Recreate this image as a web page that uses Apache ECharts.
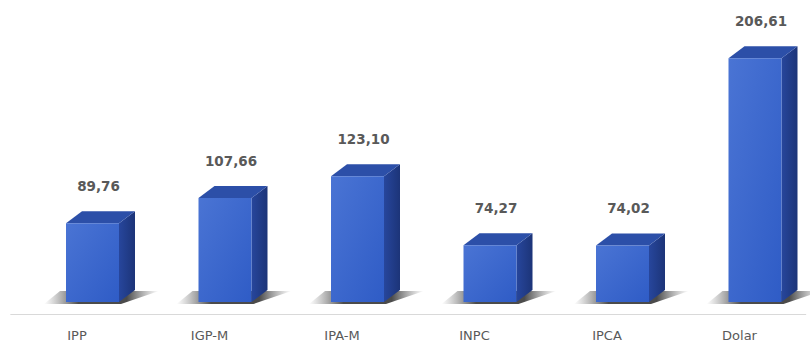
<!DOCTYPE html>
<html>
<head>
<meta charset="utf-8">
<script src="https://cdn.jsdelivr.net/npm/echarts@6/dist/echarts.min.js"></script>
<style>
html,body{margin:0;padding:0;background:#fff;}
#chart{width:810px;height:343px;}
</style>
</head>
<body>
<div id="chart"></div>
<script>
const categories = ['IPP', 'IGP-M', 'IPA-M', 'INPC', 'IPCA', 'Dolar'];
const values = [89.76, 107.66, 123.10, 74.27, 74.02, 206.61];
const Y_MIN = 34;
const Y_MAX = 220;

const chart = echarts.init(document.getElementById('chart'), null, {renderer: 'svg'});

function fmt(v) { return v.toFixed(2).replace('.', ','); }

const option = {
  backgroundColor: '#ffffff',
  animation: false,
  grid: {left: 10.75, right: 4.25, top: 51.4, bottom: 29},
  xAxis: {
    type: 'category',
    data: categories,
    axisTick: {show: false},
    axisLine: {lineStyle: {color: '#d9d9d9', width: 1}},
    axisLabel: {color: '#595959', fontFamily: 'DejaVu Sans', fontSize: 13, margin: 15}
  },
  yAxis: {type: 'value', min: Y_MIN, max: Y_MAX, show: false, splitLine: {show: false}},
  series: [{
    type: 'custom',
    data: values.map((v, i) => [i, v]),
    encode: {x: 0, y: 1},
    renderItem: function (params, api) {
      const idx = api.value(0);
      const val = api.value(1);
      const top = api.coord([idx, val]);
      const base = api.coord([idx, Y_MIN]);
      const bw = 53, dx = 16, dy = 12, lift = 12, shift = 15.5;
      const cx = top[0] + shift;
      const x0 = cx - bw / 2, x1 = cx + bw / 2;
      const yt = top[1] - lift, yb = base[1] - lift;
      return {
        type: 'group',
        children: [
          {
            type: 'polygon',
            shape: {points: [[x0 - 22, yb + 2], [x1 + 2, yb + 2], [x1 + dx + 24, yb - dy + 1], [x0 + dx - 22, yb - dy + 1]]},
            style: {
              fill: new echarts.graphic.LinearGradient(0, 0, 1, 0, [
                {offset: 0, color: 'rgba(110,110,110,0)'},
                {offset: 0.3, color: 'rgba(55,55,55,0.9)'},
                {offset: 0.72, color: 'rgba(55,55,55,0.9)'},
                {offset: 1, color: 'rgba(110,110,110,0)'}
              ])
            }
          },
          {
            type: 'polygon',
            shape: {points: [[x1, yt], [x1 + dx, yt - dy], [x1 + dx, yb - dy], [x1, yb]]},
            style: {
              fill: new echarts.graphic.LinearGradient(0, 0, 1, 0, [
                {offset: 0, color: '#27469c'},
                {offset: 1, color: '#1c3478'}
              ])
            }
          },
          {
            type: 'polygon',
            shape: {points: [[x0, yt], [x0 + dx, yt - dy], [x1 + dx, yt - dy], [x1, yt]]},
            style: {fill: '#2c4fa8'}
          },
          {
            type: 'rect',
            shape: {x: x0, y: yt, width: bw, height: yb - yt},
            style: {
              fill: new echarts.graphic.LinearGradient(0, 0, 1, 1, [
                {offset: 0, color: '#4a74d4'},
                {offset: 1, color: '#2f5cc6'}
              ])
            }
          },
          {
            type: 'text',
            x: cx + 6,
            y: yt - dy - 25,
            style: {
              text: fmt(val),
              fill: '#595959',
              font: 'bold 13.5px "DejaVu Sans"',
              align: 'center',
              verticalAlign: 'middle'
            }
          }
        ]
      };
    }
  }]
};
chart.setOption(option);
</script>
</body>
</html>
